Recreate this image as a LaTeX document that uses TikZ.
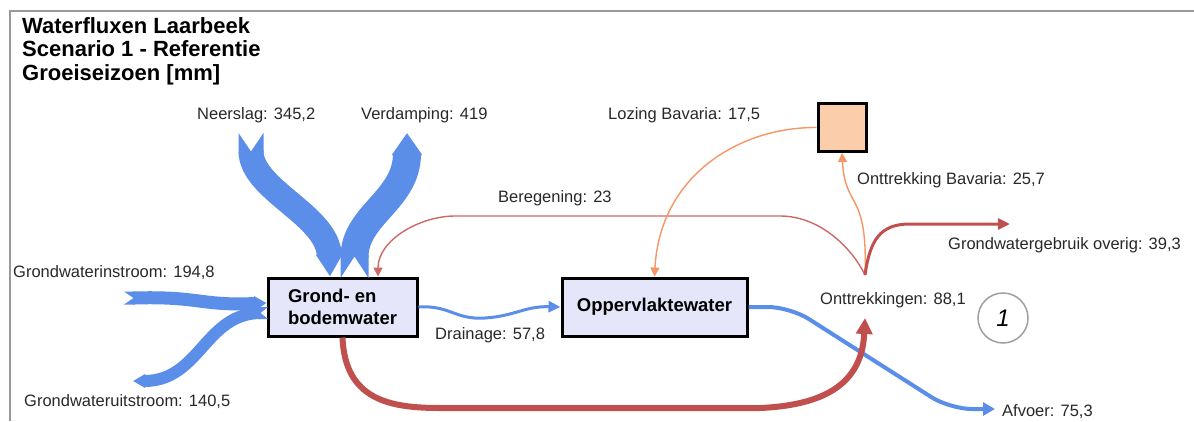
\documentclass[tikz,border=0pt]{standalone}
\usepackage{fontspec}
\setmainfont{Liberation Sans}
\usetikzlibrary{arrows.meta,calc}
\definecolor{flowblue}{RGB}{90,142,232}
\definecolor{redthick}{RGB}{192,80,77}
\definecolor{redthin}{RGB}{205,105,100}
\definecolor{orangeflow}{RGB}{247,150,100}
\definecolor{boxfill}{RGB}{230,230,250}
\definecolor{peach}{RGB}{252,205,170}
\definecolor{txt}{RGB}{40,40,40}
\begin{document}
\begin{tikzpicture}[x=1pt,y=-1pt,
  lbl/.style={inner sep=0pt, anchor=base west, text=txt, font=\fontsize{16.5}{19}\selectfont},
  bigbox/.style={draw=black, line width=3pt, fill=boxfill, align=left, inner sep=0pt,
     font=\fontsize{18.5}{22}\selectfont\bfseries},
  flowband/.style={draw=flowblue},
  bandtail/.style={fill=flowblue, draw=none},
  thinflow/.style={line width=1.4pt},
]
\useasboundingbox (0,0) rectangle (1194,421);
% frame
\draw[gray!80, line width=2pt] (10,421) -- (10,10.5) -- (1194,10.5);

% title
\node[inner sep=0pt, anchor=north west, align=left, text=black,
      font=\fontsize{22}{23.5}\selectfont\bfseries] (title) at (22,17)
  {Waterfluxen Laarbeek\\Scenario 1 - Referentie\\Groeiseizoen [mm]};

% boxes
\node[bigbox, minimum width=149pt, minimum height=58pt] (bw) at (342.5,307) {Grond- en\\bodemwater};
\node[bigbox, minimum width=185pt, minimum height=58pt] (ow) at (654.5,307) {Oppervlaktewater};
\node[draw=black, line width=3pt, fill=peach, minimum size=48pt, inner sep=0pt] (bav) at (842,127.5) {};

% junction / free end points
\coordinate (ontOut) at (865,275);
\coordinate (ontIn) at (865,318);
\coordinate (nsTail) at (251,151);
\coordinate (vdTail) at (354.5,257);
\coordinate (vdTip) at (407,133);
\coordinate (inTail) at (133,298);
\coordinate (uitTail) at (261,313);
\coordinate (uitTip) at (133,381);
\coordinate (ovTip) at (1010,224);
\coordinate (afTip) at (995,409);

% labels
\node[lbl] (lNs) at (197,119) {Neerslag: 345,2};
\node[lbl] (lVd) at (361,119) {Verdamping: 419};
\node[lbl] (lLoz) at (608,119) {Lozing Bavaria: 17,5};
\node[lbl] (lOb) at (857,184) {Onttrekking Bavaria: 25,7};
\node[lbl] (lBer) at (498,202) {Beregening: 23};
\node[lbl] (lOv) at (948,249) {Grondwatergebruik overig: 39,3};
\node[lbl] (lIn) at (13,277) {Grondwaterinstroom: 194,8};
\node[lbl] (lUit) at (24,406) {Grondwateruitstroom: 140,5};
\node[lbl] (lDr) at (435,339) {Drainage: 57,8};
\node[lbl] (lOnt) at (820,304) {Onttrekkingen: 88,1};
\node[lbl] (lAf) at (1002,416) {Afvoer: 75,3};

% circle marker
\node[circle, draw=gray!75, line width=1.5pt, minimum size=50pt, inner sep=0pt,
      font=\fontsize{24}{24}\selectfont\itshape] (mark1) at (1003,318) {1};

% wide blue bands (notched tails drawn as small shapes)
\fill[bandtail] (238.5,133) -- (251,151.5) -- (263.5,133) -- (263.5,153) -- (238.5,153) -- cycle;
\draw[flowband, line width=25pt, -{Triangle[length=22pt,width=25pt]}]
  (nsTail) .. controls (251,190) and (328,215) .. ([xshift=-12.5pt]bw.north);

\fill[bandtail] (340.5,278) -- (354.5,256.5) -- (368.5,278) -- (368.5,255) -- (340.5,255) -- cycle;
\draw[flowband, line width=28pt, -{Triangle[length=22pt,width=29pt]}]
  (vdTail) .. controls (354.5,215) and (407,200) .. (vdTip);

\fill[bandtail] (124,291.5) -- (133.5,298) -- (124,304.5) -- (135,304.5) -- (135,291.5) -- cycle;
\draw[flowband, line width=13pt, -{Triangle[length=12pt,width=14pt]}]
  (inTail) .. controls (200,296) and (200,306) .. ([yshift=4pt]bw.west);

\fill[bandtail] (268,307) -- (260.5,313) -- (268,319) -- (259,319) -- (259,307) -- cycle;
\draw[flowband, line width=12pt, -{Triangle[length=12pt,width=13pt]}]
  (uitTail) .. controls (205,313) and (200,381) .. (uitTip);

% drainage
\draw[flowband, line width=3pt, -{Triangle[length=12pt,width=11pt]}]
  (bw.east) .. controls (450,305) and (455,320) .. (485,318)
  .. controls (515,316) and (525,306) .. (ow.west);
% afvoer
\draw[flowband, line width=4pt, rounded corners=22pt, -{Triangle[length=12pt,width=13pt]}]
  (ow.east) -- (790,307) -- (950,409) -- (afTip);

% red thick onttrekkingen
\draw[draw=redthick, line width=6pt, -{Triangle[length=16pt,width=16pt]}]
  (bw.south) .. controls (345,400) and (390,408) .. (440,408) -- (760,408)
  .. controls (830,405) and (862,380) .. (ontIn);

% beregening
\draw[draw=redthin, thinflow, -{Triangle[length=9pt,width=9pt]}]
  (ontOut) .. controls (852,248) and (820,216) .. (780,216) -- (455,216)
  .. controls (420,216) and (378,240) .. ([xshift=35.5pt]bw.north);
% onttrekking bavaria
\draw[draw=orangeflow, thinflow, -{Triangle[length=9pt,width=9pt]}]
  (ontOut) .. controls (868,190) and (845,210) .. (bav.south);
% lozing bavaria
\draw[draw=orangeflow, thinflow, -{Triangle[length=9pt,width=9pt]}]
  (bav.west) .. controls (740,127) and (660,175) .. (ow.north);
% grondwatergebruik overig
\draw[draw=redthick, line width=3pt, -{Triangle[length=12pt,width=11pt]}]
  (ontOut) .. controls (870,240) and (880,224) .. (910,224) -- (ovTip);
\end{tikzpicture}
\end{document}
